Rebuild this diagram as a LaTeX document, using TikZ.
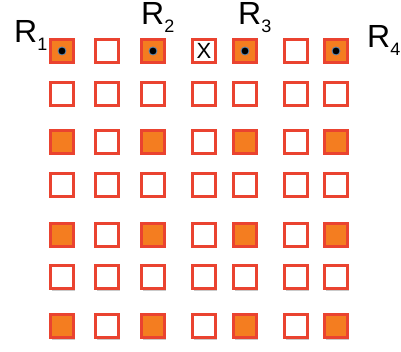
\documentclass[tikz,border=0pt]{standalone}
\usepackage{fontspec}
\setmainfont{Liberation Sans}
\usetikzlibrary{shadows}
\definecolor{boxred}{HTML}{EA4330}
\definecolor{boxorange}{HTML}{F47D20}
\definecolor{dotring}{HTML}{5A8AB8}
\newcommand{\subn}[1]{\raisebox{-8pt}{\fontsize{18}{18}\selectfont #1}}
\tikzset{
  cell/.style={draw=boxred, line width=2.2pt, minimum size=23pt, inner sep=0pt, fill=white,
    drop shadow={shadow xshift=1.5pt, shadow yshift=-2pt, opacity=0.35, fill=black!60}},
  full/.style={cell, fill=boxorange},
  dot/.style={circle, fill=black, draw=dotring, line width=0.8pt, minimum size=8pt, inner sep=0pt},
  lab/.style={font=\fontsize{32}{34}\selectfont, inner sep=0pt, anchor=base west}
}
\begin{document}
\begin{tikzpicture}[x=1pt,y=-1pt]
\useasboundingbox (0,0) rectangle (401,352);
\def\colx{{62,107,153,204,245,296,336}}
\def\rowy{{51,94,142,185,235,277,326}}
\foreach \r in {0,...,6}{
  \foreach \c in {0,...,6}{
    \pgfmathsetmacro{\xx}{\colx[\c]}
    \pgfmathsetmacro{\yy}{\rowy[\r]}
    \pgfmathtruncatemacro{\isfull}{(mod(\r,2)==0 && mod(\c,2)==0) ? 1 : 0}
    \ifnum\isfull=1
      \node[full] (b\r\c) at (\xx,\yy) {};
    \else
      \node[cell] (b\r\c) at (\xx,\yy) {};
    \fi
  }
}
\foreach \c in {0,2,4,6}{ \node[dot] (d\c) at (b0\c.center) {}; }
\node[font=\fontsize{22}{22}\selectfont, inner sep=0pt] (x) at (b03.center) {X};
\node[lab] (r1) at (14,43) {R\subn{1}};
\node[lab] (r2) at (141,25) {R\subn{2}};
\node[lab] (r3) at (238,25) {R\subn{3}};
\node[lab] (r4) at (367,48) {R\subn{4}};
\end{tikzpicture}
\end{document}
